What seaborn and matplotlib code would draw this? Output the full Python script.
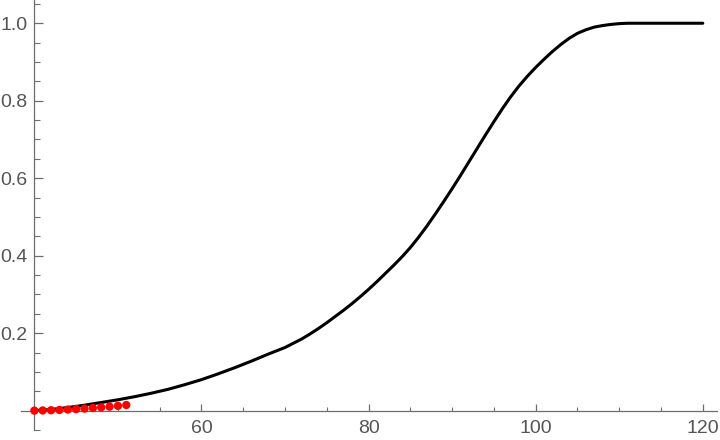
import numpy as np
import pandas as pd
import matplotlib
matplotlib.use('Agg')
import matplotlib.pyplot as plt
import seaborn as sns
from matplotlib.ticker import FixedLocator

# curve values, one per unit from 40 to 120
curve_x = list(range(40, 121))
curve_y = [0.0, 0.0015, 0.003, 0.0055, 0.008, 0.011, 0.014, 0.0175, 0.021, 0.0245,
           0.028, 0.032, 0.036, 0.0405, 0.045, 0.050, 0.055, 0.061, 0.067, 0.0735,
           0.080, 0.0875, 0.095, 0.103, 0.111, 0.1195, 0.128, 0.137, 0.146, 0.1545,
           0.163, 0.174, 0.185, 0.198, 0.212, 0.227, 0.243, 0.259, 0.276, 0.294,
           0.313, 0.333, 0.354, 0.375, 0.397, 0.421, 0.448, 0.477, 0.508, 0.540,
           0.573, 0.607, 0.642, 0.677, 0.712, 0.746, 0.779, 0.810, 0.838, 0.863,
           0.886, 0.907, 0.927, 0.945, 0.961, 0.974, 0.983, 0.990, 0.994, 0.997,
           0.999, 1.0, 1.0, 1.0, 1.0, 1.0, 1.0, 1.0, 1.0, 1.0, 1.0]

# red sample points
pts_x = list(range(40, 52))
pts_y = [0.0, 0.0005, 0.001, 0.0018, 0.0028, 0.004, 0.0053, 0.0068, 0.0085,
         0.0103, 0.0123, 0.0145]

xticks_major = [60, 80, 100, 120]
yticks_major = [0.2, 0.4, 0.6, 0.8, 1.0]

sns.set_style('white')
plt.rcParams['font.family'] = ['Liberation Sans', 'DejaVu Sans']

df_curve = pd.DataFrame({'x': curve_x, 'y': curve_y})
df_pts = pd.DataFrame({'x': pts_x, 'y': pts_y})

fig = plt.figure(figsize=(7.2, 4.4), dpi=100)
ax = fig.add_axes([21 / 720, 10 / 440, 696 / 720, 430 / 440])

sns.lineplot(data=df_curve, x='x', y='y', color='black', linewidth=2.2, ax=ax, zorder=2)
sns.scatterplot(data=df_pts, x='x', y='y', color='red', s=36, edgecolor='none', ax=ax, zorder=3)

ax.set_xlim(38.4, 121.7)
ax.set_ylim(-0.05, 1.06)

axis_col = '#6e6e6e'
for s in ['top', 'right']:
    ax.spines[s].set_visible(False)
ax.spines['left'].set_position(('data', 40))
ax.spines['bottom'].set_position(('data', 0))
for s in ['left', 'bottom']:
    ax.spines[s].set_color(axis_col)
    ax.spines[s].set_linewidth(0.9)

ax.xaxis.set_major_locator(FixedLocator(xticks_major))
ax.xaxis.set_minor_locator(FixedLocator([v for v in range(45, 120, 5) if v % 20 != 0]))
ax.yaxis.set_major_locator(FixedLocator(yticks_major))
ax.yaxis.set_minor_locator(FixedLocator([-0.05, 0.05, 0.1, 0.15, 0.25, 0.3, 0.35, 0.45, 0.5,
                                         0.55, 0.65, 0.7, 0.75, 0.85, 0.9, 0.95, 1.05]))
ax.set_xticklabels([str(v) for v in xticks_major])
ax.set_yticklabels(['%.1f' % v for v in yticks_major])

ax.tick_params(axis='x', which='both', bottom=True, top=False)
ax.tick_params(axis='y', which='both', left=True, right=False)
ax.tick_params(axis='x', which='major', direction='in', length=5, width=0.9,
               color=axis_col, labelcolor='#555555', labelsize=14, pad=7)
ax.tick_params(axis='x', which='minor', direction='in', length=3, width=0.8, color=axis_col)
ax.tick_params(axis='y', which='major', direction='in', length=6.5, width=0.9,
               color=axis_col, labelcolor='#555555', labelsize=14, pad=5)
ax.tick_params(axis='y', which='minor', direction='in', length=4, width=0.8, color=axis_col)

ax.set_xlabel('')
ax.set_ylabel('')
ax.patch.set_alpha(0)

plt.savefig('out.png', dpi=100)
